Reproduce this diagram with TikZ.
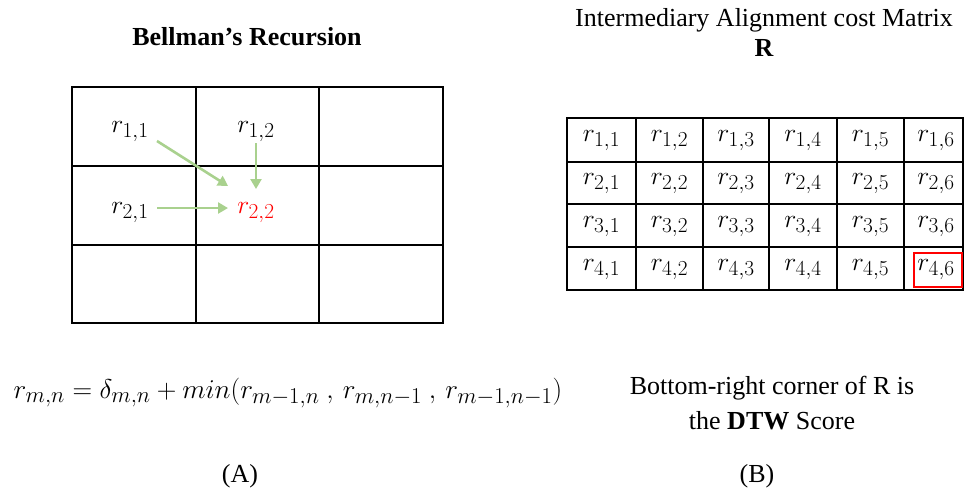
\documentclass[tikz,border=0pt]{standalone}
\usepackage{fontspec}
\setmainfont{Liberation Serif}
\usetikzlibrary{arrows.meta}
\definecolor{arrowgreen}{HTML}{A9D18E}
\definecolor{redtxt}{HTML}{FF0000}
\begin{document}
\begin{tikzpicture}[x=1pt,y=-1pt,
  gridline/.style={draw=black,line width=1.2pt},
  cell/.style={inner sep=0pt,font=\fontsize{24.88}{28}\selectfont,scale=1.03},
  lbl/.style={inner sep=0pt,font=\fontsize{26}{30}\selectfont},
  garrow/.style={draw=arrowgreen,line width=2.6pt,-{Triangle[length=10pt,width=11pt]}}]
\useasboundingbox (0,0) rectangle (969,499);
% titles
\node[lbl,font=\fontsize{26}{30}\selectfont\bfseries] (t1) at (247,37) {Bellman’s Recursion};
\node[lbl] (t2) at (764,20) {Intermediary Alignment cost Matrix};
\node[lbl,font=\fontsize{26}{30}\selectfont\bfseries] (t3) at (764,48) {R};
% left grid
\draw[gridline] (72,87) rectangle (443,323);
\foreach \x in {196,319} \draw[gridline] (\x,87) -- (\x,323);
\foreach \y in {166,245} \draw[gridline] (72,\y) -- (443,\y);
\node[cell] (a11) at (130,132) {$r_{1,1}$};
\node[cell] (a12) at (256,132) {$r_{1,2}$};
\node[cell] (a21) at (130,213) {$r_{2,1}$};
\node[cell,text=redtxt] (a22) at (256,213) {$r_{2,2}$};
\coordinate (p1) at (157,141);
\coordinate (q1) at (228,186);
\coordinate (p2) at (256,143);
\coordinate (q2) at (256,189);
\coordinate (p3) at (157,208);
\coordinate (q3) at (228,208);
\draw[garrow] (p1) -- (q1);
\draw[garrow] (p2) -- (q2);
\draw[garrow] (p3) -- (q3);
% right table
\draw[gridline] (567,118) rectangle (963,290);
\foreach \x in {636,703,769,837,904} \draw[gridline] (\x,118) -- (\x,290);
\foreach \y in {162,204,247} \draw[gridline] (567,\y) -- (963,\y);
\foreach \r/\yc in {1/141,2/184,3/226.5,4/269.5}{
  \foreach \c/\xc in {1/601.5,2/669.5,3/736,4/803,5/870.5,6/936}{
    \node[cell] (m\r\c) at (\xc,\yc) {$r_{\r,\c}$};
  }
}
\draw[draw=redtxt,line width=2pt] (914,253) rectangle (962,287);
% formula
\node[cell,scale=1.06] (f) at (288,393) {$r_{m,n} = \delta_{m,n} + min(r_{m-1,n}\ ,\, r_{m,n-1}\ ,\, r_{m-1,n-1})$};
\node[lbl] (b1) at (772,388) {Bottom-right corner of R is};
\node[lbl] (b2) at (772,421) {the \textbf{DTW} Score};
\node[lbl] (la) at (240,476) {(A)};
\node[lbl] (lb) at (757,476) {(B)};
\end{tikzpicture}
\end{document}
